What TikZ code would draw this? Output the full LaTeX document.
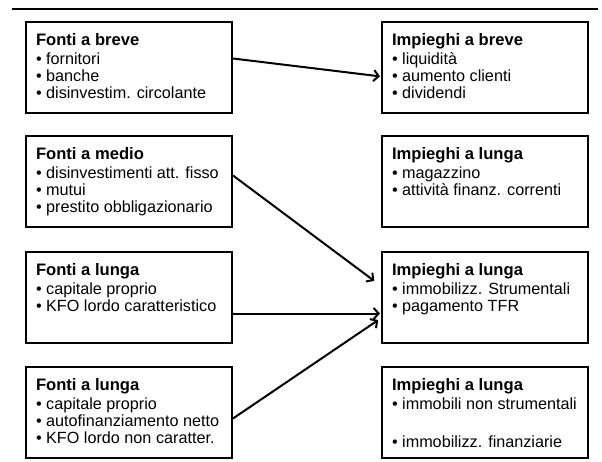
\documentclass[tikz,border=0pt]{standalone}
\usepackage{fontspec}
\setmainfont{Liberation Sans}
\usetikzlibrary{arrows.meta,calc}

% contents of one box: bold heading, then bulleted lines
\newcommand{\boxhead}[1]{{\fontsize{16.6}{17}\selectfont\bfseries #1\par}\vspace{2.5pt}}
\newcommand{\itm}[1]{\textbullet\ #1\par}
\newcommand{\boxbody}[2]{%
  \begin{minipage}[c][69pt][t]{186pt}
  \fontsize{16.2}{17}\selectfont\raggedright
  \boxhead{#1}#2
  \end{minipage}}

\tikzset{
  panel/.style={draw, line width=2pt, rectangle, anchor=north west,
    inner xsep=10pt, inner ysep=11pt, align=left},
  flow/.style={line width=2pt, -{Straight Barb[length=5pt,width=11pt,line width=2pt]}, shorten >=1pt}
}

\begin{document}
\begin{tikzpicture}[x=1pt,y=-1pt]
\useasboundingbox (0,0) rectangle (602,462);
\draw[line width=2pt] (12,9) -- (598,9);

% sources
\node[panel] (fb) at (25,21)  {\boxbody{Fonti a breve}{\itm{fornitori}\itm{banche}\itm{disinvestim. circolante}}};
\node[panel] (fm) at (25,135) {\boxbody{Fonti a medio}{\itm{disinvestimenti att. fisso}\itm{mutui}\itm{prestito obbligazionario}}};
\node[panel] (fl) at (25,251) {\boxbody{Fonti a lunga}{\itm{capitale proprio}\itm{KFO lordo caratteristico}}};
\node[panel] (fn) at (25,366) {\boxbody{Fonti a lunga}{\itm{capitale proprio}\itm{autofinanziamento netto}\itm{KFO lordo non caratter.}}};

% uses
\node[panel] (ib) at (381,21)  {\boxbody{Impieghi a breve}{\itm{liquidità}\itm{aumento clienti}\itm{dividendi}}};
\node[panel] (ic) at (381,135) {\boxbody{Impieghi a lunga}{\itm{magazzino}\itm{attività finanz. correnti}}};
\node[panel] (il) at (381,251) {\boxbody{Impieghi a lunga}{\itm{immobilizz. Strumentali}\itm{pagamento TFR}}};
\node[panel] (in) at (381,366) {\boxbody{Impieghi a lunga}{\itm{immobili non strumentali}\vspace{21pt}\itm{immobilizz. finanziarie}}};

% flows
\draw[flow] ($(fb.east)+(0,-9)$) -- ($(ib.west)+(0,9)$);
\draw[flow] ($(fm.east)+(0,-6)$) -- ($(il.west)+(-6,-16)$);
\draw[flow] ($(fl.east)+(0,16)$) -- ($(il.west)+(0,16)$);
\draw[flow] ($(fn.east)+(0,6)$) -- ($(il.west)+(-2,22)$);
\end{tikzpicture}
\end{document}
